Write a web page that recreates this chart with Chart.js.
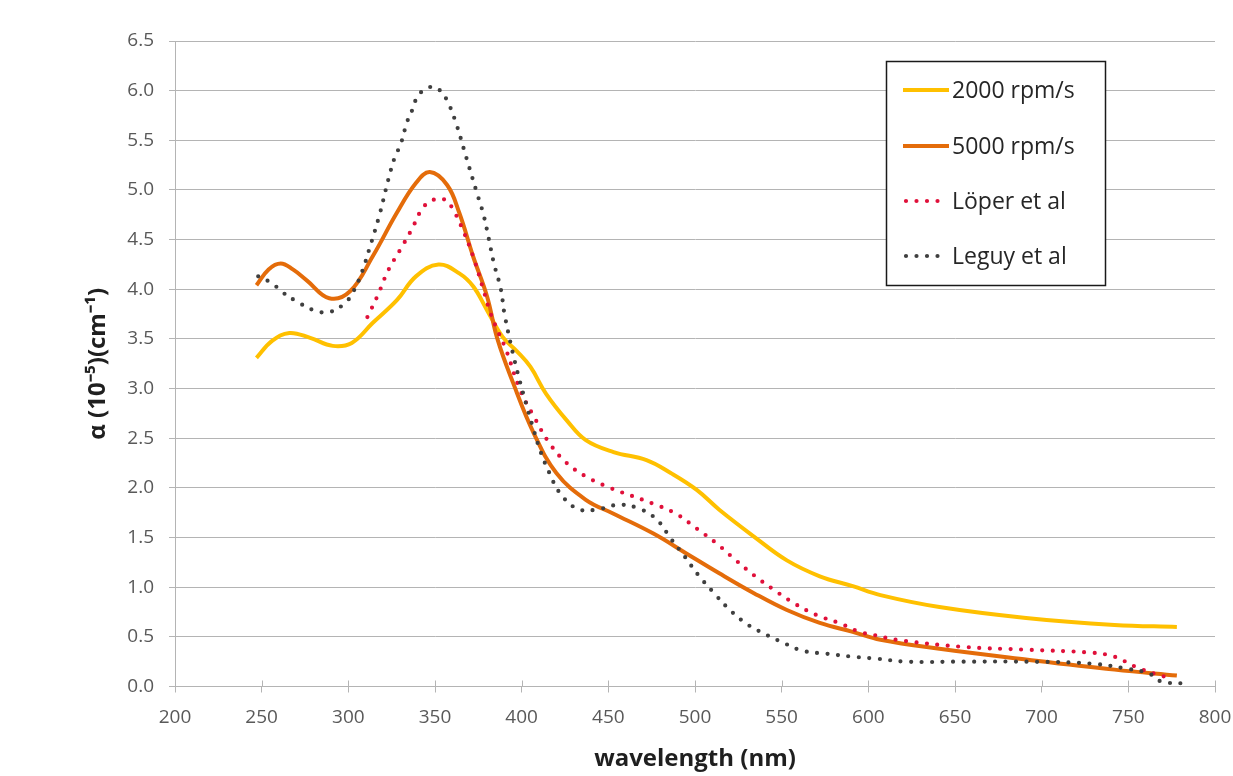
<!DOCTYPE html>
<html>
<head>
<meta charset="utf-8">
<script src="https://cdn.jsdelivr.net/npm/chart.js@4.4.1/dist/chart.umd.min.js"></script>
<style>
  html, body { margin: 0; padding: 0; background: #ffffff; }
  #wrap { width: 1233px; height: 776px; position: relative; }
</style>
</head>
<body>
<div id="wrap"><canvas id="chart" width="1233" height="776"></canvas></div>
<script>
// Absorption coefficient spectra: wavelength (nm) and alpha (10^-5 cm^-1)
const seriesLabels = ['2000 rpm/s', '5000 rpm/s', 'Löper et al', 'Leguy et al'];

const rpm2000Nm    = [247, 256, 266, 278, 291, 302, 314, 328, 339, 352, 364, 372, 380, 389, 397, 405, 414, 426, 437, 453, 472, 486, 501, 514, 534, 553, 572, 591, 607, 641, 691, 742, 778];
const rpm2000Alpha = [3.31, 3.48, 3.56, 3.51, 3.43, 3.46, 3.66, 3.89, 4.13, 4.25, 4.16, 4.03, 3.79, 3.52, 3.38, 3.22, 2.95, 2.68, 2.48, 2.36, 2.28, 2.15, 1.98, 1.78, 1.51, 1.27, 1.11, 1.01, 0.92, 0.80, 0.69, 0.62, 0.60];

const rpm5000Nm    = [247, 254, 261, 268, 276, 289, 301, 314, 328, 339, 347, 357, 364, 372, 380, 386, 395, 407, 420, 437, 453, 476, 495, 514, 534, 553, 572, 591, 607, 641, 692, 742, 778];
const rpm5000Alpha = [4.04, 4.20, 4.26, 4.20, 4.09, 3.91, 3.98, 4.33, 4.77, 5.07, 5.18, 5.05, 4.77, 4.33, 3.93, 3.50, 3.06, 2.55, 2.15, 1.88, 1.74, 1.54, 1.34, 1.14, 0.94, 0.77, 0.64, 0.55, 0.47, 0.38, 0.27, 0.17, 0.11];

const loperNm    = [311, 317, 323, 330, 336.5, 343, 349, 356, 360.5, 366, 372, 378, 382, 386, 391, 399, 407, 416, 426, 437.5, 451, 457, 476, 489, 501, 512.5, 523, 534, 545, 557, 570, 583, 595, 603, 616.5, 654, 691.5, 729, 742, 754, 766.5, 771];
const loperAlpha = [3.72, 3.94, 4.19, 4.40, 4.60, 4.82, 4.90, 4.90, 4.80, 4.60, 4.33, 3.99, 3.76, 3.59, 3.39, 2.99, 2.72, 2.45, 2.25, 2.11, 2.00, 1.96, 1.84, 1.74, 1.59, 1.44, 1.28, 1.12, 0.98, 0.84, 0.72, 0.64, 0.55, 0.52, 0.47, 0.40, 0.37, 0.34, 0.30, 0.20, 0.12, 0.10];

const leguyNm    = [248, 256, 262, 270, 280, 289, 298, 303, 308, 312, 318, 323, 327, 330, 334, 337, 339, 343, 349, 353, 357, 362, 368, 374, 378, 381, 384, 388, 390, 395, 399, 403, 407, 411, 416, 422, 432, 443, 456, 468, 478, 486, 494, 502, 511, 519, 529, 539, 551, 562, 576, 591, 605, 622, 654, 692, 729, 749, 762, 769, 783];
const leguyAlpha = [4.13, 4.06, 3.97, 3.88, 3.79, 3.77, 3.86, 3.98, 4.18, 4.40, 4.75, 5.10, 5.34, 5.45, 5.69, 5.81, 5.91, 6.00, 6.04, 6.00, 5.90, 5.68, 5.33, 4.98, 4.75, 4.51, 4.26, 4.00, 3.76, 3.35, 3.07, 2.82, 2.58, 2.36, 2.15, 1.95, 1.79, 1.78, 1.83, 1.79, 1.68, 1.49, 1.31, 1.12, 0.94, 0.79, 0.64, 0.54, 0.44, 0.36, 0.33, 0.30, 0.28, 0.25, 0.25, 0.25, 0.23, 0.18, 0.13, 0.05, 0.03];

// Axis ranges and tick steps
const xRange = [200, 800];
const xStep = 50;
const yRange = [0, 6.5];
const yStep = 0.5;

const xTitle = 'wavelength (nm)';
const yTitle = 'α (10⁻⁵)(cm⁻¹)';

function toPoints(xs, ys) {
  return xs.map((x, i) => ({ x: x, y: ys[i] }));
}

const DOT = [0, 10.5];

const datasets = [
  { label: seriesLabels[0], data: toPoints(rpm2000Nm, rpm2000Alpha), borderColor: '#FFC000', borderWidth: 4, order: 3 },
  { label: seriesLabels[1], data: toPoints(rpm5000Nm, rpm5000Alpha), borderColor: '#E46C0A', borderWidth: 4, order: 2 },
  { label: seriesLabels[2], data: toPoints(loperNm, loperAlpha), borderColor: '#E0103A', borderWidth: 4.2, borderDash: DOT, borderCapStyle: 'round', order: 1 },
  { label: seriesLabels[3], data: toPoints(leguyNm, leguyAlpha), borderColor: '#3F3F3F', borderWidth: 4.2, borderDash: DOT, borderCapStyle: 'round', order: 0 }
].map(d => Object.assign({
  pointRadius: 0,
  pointHoverRadius: 0,
  fill: false,
  tension: 0.4,
  borderJoinStyle: 'round'
}, d));

const GRID = '#b4b4b4';
const TICK_TEXT = '#595959';
const FONT = "'Open Sans', 'Liberation Sans', sans-serif";

// Cross-style tick marks on the wavelength axis (the part inside the plot)
const innerTicks = {
  id: 'innerTicks',
  beforeDatasetsDraw(chart) {
    const { ctx, scales: { x }, chartArea } = chart;
    ctx.save();
    ctx.strokeStyle = GRID;
    ctx.lineWidth = 1;
    x.ticks.forEach(t => {
      const px = Math.round(x.getPixelForValue(t.value)) + 0.5;
      ctx.beginPath();
      ctx.moveTo(px, chartArea.bottom - 6);
      ctx.lineTo(px, chartArea.bottom);
      ctx.stroke();
    });
    ctx.restore();
  }
};

// Boxed legend inside the plot area
const boxLegend = {
  id: 'boxLegend',
  afterDraw(chart) {
    const { ctx } = chart;
    const box = { left: 886.5, top: 61.5, right: 1105.5, bottom: 285.5 };
    ctx.save();
    ctx.fillStyle = '#ffffff';
    ctx.fillRect(box.left, box.top, box.right - box.left, box.bottom - box.top);
    ctx.strokeStyle = '#1a1a1a';
    ctx.lineWidth = 1.5;
    ctx.strokeRect(box.left, box.top, box.right - box.left, box.bottom - box.top);
    const rows = [90, 146, 201, 256];
    chart.data.datasets.forEach((ds, i) => {
      const y = rows[i];
      ctx.beginPath();
      ctx.strokeStyle = ds.borderColor;
      ctx.lineWidth = ds.borderWidth;
      ctx.lineCap = ds.borderCapStyle || 'butt';
      ctx.setLineDash(ds.borderDash || []);
      if (ds.borderDash) {
        ctx.moveTo(906, y);
        ctx.lineTo(942, y);
      } else {
        ctx.moveTo(903, y);
        ctx.lineTo(949, y);
      }
      ctx.stroke();
      ctx.setLineDash([]);
      ctx.fillStyle = '#262626';
      ctx.font = "23px " + FONT;
      ctx.textAlign = 'left';
      ctx.textBaseline = 'middle';
      ctx.fillText(ds.label, 952, y + 1);
    });
    ctx.restore();
  }
};

new Chart(document.getElementById('chart'), {
  type: 'line',
  data: { datasets: datasets },
  options: {
    responsive: false,
    animation: false,
    devicePixelRatio: 1,
    layout: { padding: { top: 41, right: 18, bottom: 0, left: 0 } },
    plugins: {
      legend: { display: false },
      tooltip: { enabled: false }
    },
    scales: {
      x: {
        type: 'linear',
        min: xRange[0],
        max: xRange[1],
        ticks: {
          stepSize: xStep,
          color: TICK_TEXT,
          font: { family: FONT, size: 19 },
          padding: 14,
          maxRotation: 0,
          callback: v => String(v)
        },
        grid: { drawOnChartArea: false, drawTicks: true, tickLength: 6, color: GRID, lineWidth: 1 },
        border: { display: true, color: GRID, width: 1 },
        title: {
          display: true,
          text: xTitle,
          color: '#1f1f1f',
          font: { family: FONT, size: 24, weight: 'bold' },
          padding: { top: 0, bottom: 2 }
        },
        afterFit(scale) {
          scale.height = 89.5;
          scale.paddingLeft = 0;
          scale.paddingRight = 0;
        }
      },
      y: {
        min: yRange[0],
        max: yRange[1],
        ticks: {
          stepSize: yStep,
          color: TICK_TEXT,
          font: { family: FONT, size: 19 },
          padding: 15,
          callback: v => v.toFixed(1)
        },
        grid: { color: GRID, lineWidth: 1, tickLength: 6, drawTicks: true },
        border: { display: true, color: GRID, width: 1 },
        title: {
          display: true,
          text: yTitle,
          color: '#1f1f1f',
          font: { family: FONT, size: 24, weight: 'bold' },
          padding: { top: 84, bottom: 0 }
        },
        afterFit(scale) {
          scale.width = 175;
          scale.paddingTop = 0;
          scale.paddingBottom = 0;
        }
      }
    }
  },
  plugins: [innerTicks, boxLegend]
});
</script>
</body>
</html>
